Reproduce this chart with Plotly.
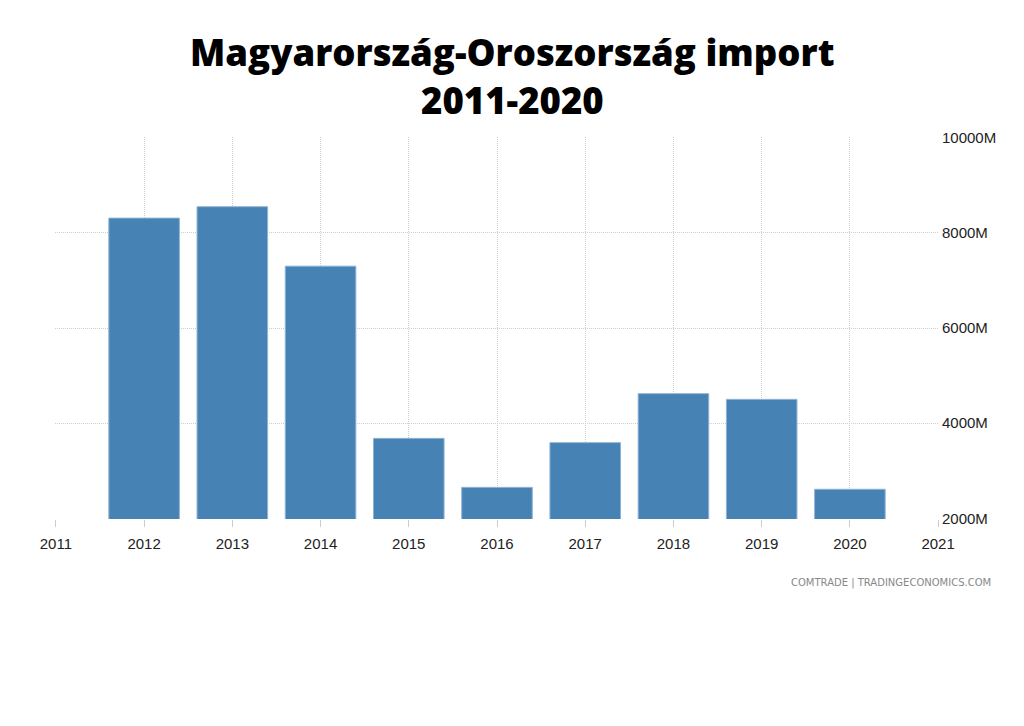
import plotly.graph_objects as go

# Import values (million USD)
years = [2012, 2013, 2014, 2015, 2016, 2017, 2018, 2019, 2020]
imports = [8310, 8550, 7300, 3680, 2650, 3590, 4620, 4500, 2610]

x_ticks = list(range(2011, 2022))
y_ticks = [2000, 4000, 6000, 8000, 10000]
y_labels = ["2000M", "4000M", "6000M", "8000M", "10000M"]

title_lines = ["Magyarország-Oroszország import", "2011-2020"]

# the page body adds an 8px offset, so the margins compensate for it
m_l, m_r, m_t, m_b = 47, 93, 129, 215
plot_w = 1024 - m_l - m_r
plot_h = 726 - m_t - m_b


def px_x(px):
    return (px - 8 - m_l) / plot_w


def px_y(py):
    return (726 - m_b - (py - 8)) / plot_h


fig = go.Figure()

fig.add_trace(
    go.Bar(
        x=years,
        y=imports,
        width=0.8,
        marker=dict(color="#4682b4", line=dict(color="#8fb3d4", width=1)),
        showlegend=False,
        hoverinfo="x+y",
    )
)

grid = dict(showgrid=True, gridcolor="#cfcfcf", griddash="1px,1px", gridwidth=1, zeroline=False)

fig.update_layout(
    width=1024,
    height=726,
    paper_bgcolor="white",
    plot_bgcolor="white",
    margin=dict(l=m_l, r=m_r, t=m_t, b=m_b),
    xaxis=dict(
        range=[2010.99, 2021.01],
        tickvals=x_ticks,
        ticktext=[str(y) for y in x_ticks],
        ticks="outside",
        ticklen=7,
        tickcolor="#cccccc",
        ticklabelstandoff=4,
        tickfont=dict(family="Liberation Sans", size=15, color="#222222"),
        showline=False,
        **grid,
    ),
    yaxis=dict(
        range=[1985, 10015],
        side="right",
        tickvals=y_ticks,
        ticktext=y_labels,
        ticks="",
        ticklabelstandoff=2,
        tickfont=dict(family="Liberation Sans", size=15, color="#222222"),
        **grid,
    ),
)

# two-line title, one annotation per line
for line, center_y in zip(title_lines, [52, 100]):
    fig.add_annotation(
        text=line,
        x=px_x(512),
        y=px_y(center_y),
        xref="paper",
        yref="paper",
        xanchor="center",
        yanchor="middle",
        showarrow=False,
        font=dict(family="Open Sans", size=36.5, color="black", weight=800),
    )

fig.add_annotation(
    text="COMTRADE | TRADINGECONOMICS.COM",
    x=px_x(993),
    y=px_y(583),
    xref="paper",
    yref="paper",
    xanchor="right",
    yanchor="middle",
    showarrow=False,
    font=dict(family="DejaVu Sans", size=10, color="#888888"),
)

fig.write_html("out.html")
